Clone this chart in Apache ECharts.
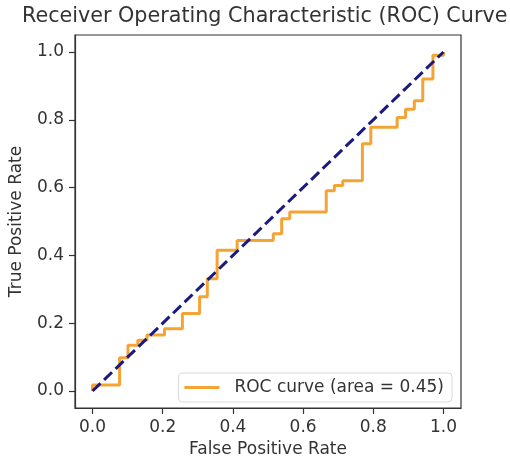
<!DOCTYPE html>
<html>
<head>
<meta charset="utf-8">
<script src="https://cdn.jsdelivr.net/npm/echarts@6/dist/echarts.min.js"></script>
<style>html,body{margin:0;padding:0;background:#fff}#c{width:510px;height:463px}</style>
</head>
<body>
<div id="c"></div>
<script>
const titleText = 'Receiver Operating Characteristic (ROC) Curve';
const xName = 'False Positive Rate';
const yName = 'True Positive Rate';
const legendName = 'ROC curve (area = 0.45)';
const tickValues = [0, 0.2, 0.4, 0.6, 0.8, 1.0];
const fpr = [0, 0, 0.077, 0.077, 0.101, 0.101, 0.129, 0.129, 0.155, 0.155, 0.205, 0.205, 0.256, 0.256, 0.305, 0.305, 0.327, 0.327, 0.355, 0.355, 0.412, 0.412, 0.515, 0.515, 0.539, 0.539, 0.562, 0.562, 0.666, 0.666, 0.689, 0.689, 0.713, 0.713, 0.769, 0.769, 0.793, 0.793, 0.868, 0.868, 0.892, 0.892, 0.917, 0.917, 0.941, 0.941, 0.970, 0.970, 1.0, 1.0];
const tpr = [0, 0.018, 0.018, 0.098, 0.098, 0.135, 0.135, 0.150, 0.150, 0.165, 0.165, 0.184, 0.184, 0.229, 0.229, 0.278, 0.278, 0.331, 0.331, 0.415, 0.415, 0.444, 0.444, 0.464, 0.464, 0.508, 0.508, 0.528, 0.528, 0.591, 0.591, 0.606, 0.606, 0.620, 0.620, 0.729, 0.729, 0.778, 0.778, 0.807, 0.807, 0.831, 0.831, 0.856, 0.856, 0.920, 0.920, 0.990, 0.990, 1.0];
const diagX = [0, 1];
const diagY = [0, 1];

const font = 'DejaVu Sans';
const txt = '#333';
const axisCommon = {
  type: 'value', min: -0.05, max: 1.05,
  splitLine: {show: false},
  axisLine: {show: true, onZero: false, lineStyle: {color: '#333', width: 1.2}},
  axisTick: {show: true, inside: false, length: 6, customValues: tickValues, lineStyle: {color: '#333', width: 1.2}},
  axisLabel: {customValues: tickValues, formatter: v => v.toFixed(1), color: txt, fontFamily: font, fontSize: 17, margin: 11},
  nameLocation: 'middle',
  nameTextStyle: {color: txt, fontFamily: font, fontSize: 17}
};
const chart = echarts.init(document.getElementById('c'), null, {renderer: 'canvas'});
chart.setOption({
  animation: false,
  backgroundColor: '#fff',
  title: {text: titleText, left: 22, top: 6, padding: 0,
    textStyle: {fontFamily: font, fontSize: 20.7, fontWeight: 'normal', color: txt}},
  grid: {left: 72, right: 49, top: 35, bottom: 54, show: true, borderColor: '#333', borderWidth: 1.2, backgroundColor: '#fff'},
  xAxis: Object.assign({}, axisCommon, {name: xName, nameGap: 33}),
  yAxis: Object.assign({}, axisCommon, {name: yName, nameGap: 50}),
  legend: {
    data: [legendName], right: 58, bottom: 61, orient: 'horizontal',
    icon: 'rect', itemWidth: 35, itemHeight: 3,
    padding: [6, 8, 6, 6], borderColor: '#d8d8d8', borderWidth: 1, borderRadius: 4,
    backgroundColor: 'rgba(255,255,255,0.85)',
    textStyle: {fontFamily: font, fontSize: 17, color: txt, padding: [0, 0, 0, 10]}
  },
  series: [
    {name: legendName, type: 'line', data: fpr.map((x, i) => [x, tpr[i]]), symbol: 'none',
      lineStyle: {color: '#f4a335', width: 3}, itemStyle: {color: '#f4a335'}, z: 2},
    {name: 'chance', type: 'line', data: diagX.map((x, i) => [x, diagY[i]]), symbol: 'none',
      lineStyle: {color: '#1a1a80', width: 3, type: [11, 5]}, z: 3}
  ]
});
</script>
</body>
</html>
